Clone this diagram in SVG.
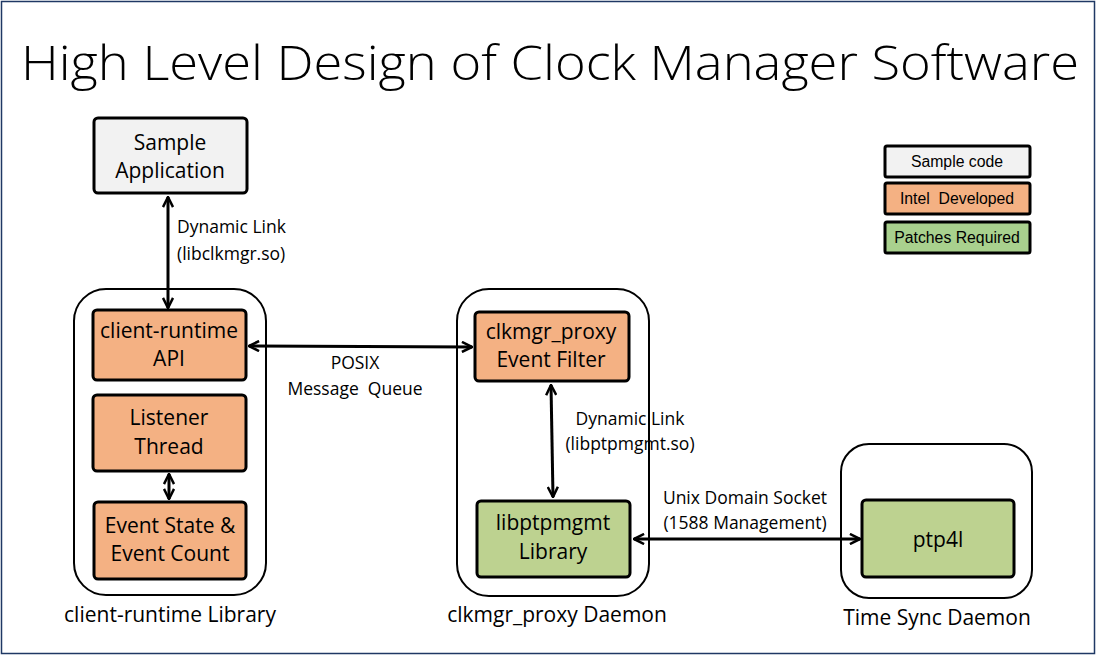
<svg xmlns="http://www.w3.org/2000/svg" width="1097" height="656" viewBox="0 0 1097 656">
<style>
.t{font-family:"Open Sans","Liberation Sans",sans-serif;fill:#000;text-anchor:middle}
.body{font-size:21px}
.lbl{font-size:17.5px}
.leg{font-family:"Liberation Sans",Arial,sans-serif;font-size:15.8px;text-anchor:middle}
.pre{white-space:pre}
.box{stroke:#000;stroke-width:3}
.cont{fill:#fff;stroke:#000;stroke-width:2}
.gray{fill:#F2F2F2}
.orange{fill:#F4B183}
.green{fill:#BDD290}
.lgreen{fill:#A9D18E}
.conn{fill:none;stroke:#000;stroke-width:3}
</style>
<defs>
<marker id="ah" viewBox="0 0 10 10" refX="9" refY="5" markerWidth="4.2" markerHeight="4.2" orient="auto-start-reverse" markerUnits="strokeWidth">
<polyline points="1,1 9,5 1,9" fill="none" stroke="#000" stroke-width="2"/>
</marker>
</defs>
<rect x="0" y="0" width="1097" height="656" fill="#fff"/>
<rect x="1.5" y="1.5" width="1093" height="652" fill="none" stroke="#1F3864" stroke-width="1.5"/>
<text class="t" x="550" y="80" font-size="48" font-weight="300" textLength="1058" lengthAdjust="spacingAndGlyphs">High Level Design of Clock Manager Software</text>

<g id="client-runtime-library">
<rect class="cont" x="74" y="289" width="192" height="306" rx="32"/>
<text class="t body" x="170" y="622">client-runtime Library</text>
</g>
<g id="clkmgr-proxy-daemon">
<rect class="cont" x="457" y="289" width="192" height="307" rx="32"/>
<text class="t body" x="557" y="622">clkmgr_proxy Daemon</text>
</g>
<g id="time-sync-daemon">
<rect class="cont" x="841" y="444" width="191" height="154" rx="28"/>
<text class="t body" x="937" y="625">Time Sync Daemon</text>
</g>

<g id="sample-application">
<rect class="box gray" x="94" y="118" width="153" height="75" rx="4"/>
<text class="t body" x="170" y="150">Sample</text>
<text class="t body" x="170" y="178">Application</text>
</g>
<g id="client-runtime-api">
<rect class="box orange" x="93" y="310" width="153" height="70" rx="4"/>
<text class="t body" x="169" y="338">client-runtime</text>
<text class="t body" x="169" y="366">API</text>
</g>
<g id="listener-thread">
<rect class="box orange" x="93" y="395" width="153" height="76" rx="4"/>
<text class="t body" x="169" y="425">Listener</text>
<text class="t body" x="169" y="454">Thread</text>
</g>
<g id="event-state">
<rect class="box orange" x="94" y="502" width="152" height="77" rx="4"/>
<text class="t body" x="170" y="533">Event State &amp;</text>
<text class="t body" x="170" y="561">Event Count</text>
</g>
<g id="event-filter">
<rect class="box orange" x="475" y="312" width="154" height="69" rx="4"/>
<text class="t body" x="551" y="339">clkmgr_proxy</text>
<text class="t body" x="551" y="367">Event Filter</text>
</g>
<g id="libptpmgmt">
<rect class="box green" x="477" y="501" width="153" height="76" rx="4"/>
<text class="t body" x="553" y="530">libptpmgmt</text>
<text class="t body" x="553" y="559">Library</text>
</g>
<g id="ptp4l">
<rect class="box green" x="862" y="500" width="152" height="77" rx="4"/>
<text class="t body" x="938" y="547">ptp4l</text>
</g>

<g id="legend">
<g id="legend-sample"><rect class="box gray" x="885" y="146" width="145" height="31" rx="2"/><text class="leg" x="957" y="167">Sample code</text></g>
<g id="legend-intel"><rect class="box orange" x="885" y="183" width="145" height="31" rx="2"/><text class="leg pre" x="957" y="204">Intel  Developed</text></g>
<g id="legend-patches"><rect class="box lgreen" x="885" y="222" width="145" height="31" rx="2"/><text class="leg" x="957" y="243">Patches Required</text></g>
</g>

<g id="connectors">
<line class="conn" x1="168" y1="197" x2="168" y2="308" marker-start="url(#ah)" marker-end="url(#ah)"/>
<line class="conn" x1="169" y1="474" x2="169" y2="499" marker-start="url(#ah)" marker-end="url(#ah)"/>
<line class="conn" x1="249" y1="346" x2="472" y2="347" marker-start="url(#ah)" marker-end="url(#ah)"/>
<line class="conn" x1="551" y1="385" x2="553" y2="497" marker-start="url(#ah)" marker-end="url(#ah)"/>
<line class="conn" x1="634" y1="539" x2="860" y2="539" marker-start="url(#ah)" marker-end="url(#ah)"/>
<text class="t lbl" x="177" y="233" style="text-anchor:start">Dynamic Link</text>
<text class="t lbl" x="177" y="260" style="text-anchor:start">(libclkmgr.so)</text>
<text class="t lbl" x="355" y="369">POSIX</text>
<text class="t lbl pre" x="355" y="395">Message  Queue</text>
<text class="t lbl" x="630" y="425">Dynamic Link</text>
<text class="t lbl" x="630" y="450">(libptpmgmt.so)</text>
<text class="t lbl" x="745" y="504">Unix Domain Socket</text>
<text class="t lbl" x="745" y="529">(1588 Management)</text>
</g>
</svg>
